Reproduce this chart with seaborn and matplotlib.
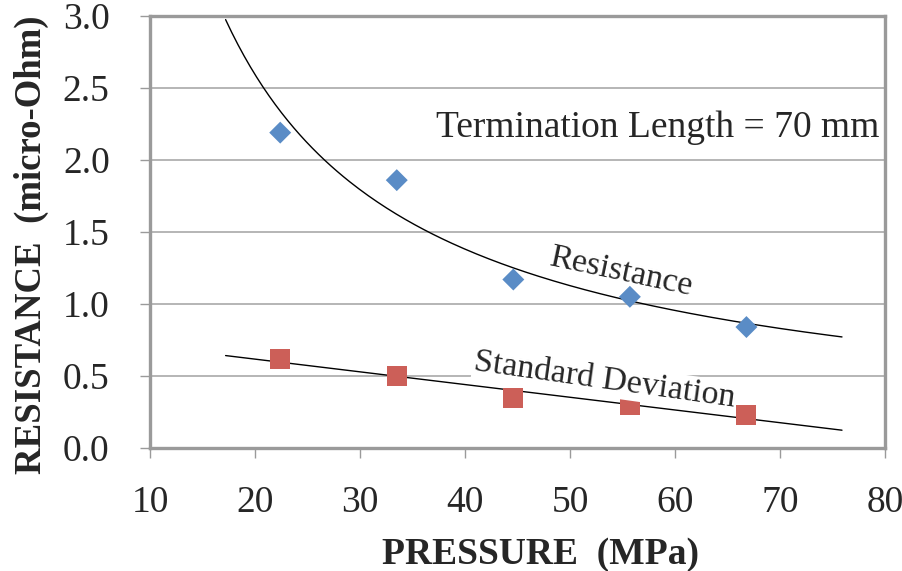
import numpy as np
import pandas as pd
import seaborn as sns
import matplotlib.pyplot as plt

# data
pressure = [22.4, 33.5, 44.6, 55.7, 66.8]
resistance = [2.19, 1.86, 1.17, 1.05, 0.84]
std_dev = [0.62, 0.50, 0.35, 0.30, 0.23]
trend_range = [17.2, 75.9]
x_ticks = [10, 20, 30, 40, 50, 60, 70, 80]
y_ticks = [0.0, 0.5, 1.0, 1.5, 2.0, 2.5, 3.0]

sns.set_style('white')
plt.rcParams['font.family'] = ['Liberation Serif', 'DejaVu Serif']

df = pd.DataFrame({'pressure': pressure, 'resistance': resistance, 'std': std_dev})

# trendlines like Excel: power fit for resistance, linear for std dev
b, a = np.polyfit(np.log(df['pressure']), np.log(df['resistance']), 1)
m, c = np.polyfit(df['pressure'], df['std'], 1)
xt = np.linspace(trend_range[0], trend_range[1], 200)
trend = pd.DataFrame({'x': xt, 'res': np.exp(a) * xt ** b, 'std': m * xt + c})

fig = plt.figure(figsize=(9.02, 5.71), dpi=100)
ax = fig.add_axes([0.1663, 0.2154, 0.8149, 0.7566])

gray = '#9a9a9a'
for yv in y_ticks[1:]:
    ax.axhline(yv, color='#b0b0b0', lw=1.3, zorder=0)

sns.lineplot(data=trend, x='x', y='res', color='black', lw=1.0, ax=ax, zorder=2)
sns.lineplot(data=trend, x='x', y='std', color='black', lw=1.0, ax=ax, zorder=2)
sns.scatterplot(data=df, x='pressure', y='resistance', marker='D', s=125,
                color='#5a8cc6', edgecolor='none', ax=ax, zorder=3)
sns.scatterplot(data=df, x='pressure', y='std', marker='s', s=205,
                color='#cc5f58', edgecolor='none', ax=ax, zorder=3)

ax.set_xlim(10, 80)
ax.set_ylim(0, 3.0)
ax.set_xticks(x_ticks)
ax.set_yticks(y_ticks)
ax.set_yticklabels([f'{v:.1f}' for v in y_ticks])

for sp in ax.spines.values():
    sp.set_color(gray)
    sp.set_linewidth(2.4)
ax.tick_params(axis='both', direction='out', length=7, width=1, color=gray,
               labelsize=27)
ax.tick_params(axis='x', bottom=True, pad=20)
ax.tick_params(axis='y', left=True, pad=22)

ax.set_xlabel('PRESSURE  (MPa)', fontsize=27, fontweight='bold', labelpad=12)
ax.set_ylabel('RESISTANCE  (micro-Ohm)', fontsize=26.5, fontweight='bold', labelpad=10)
ax.xaxis.label.set_x(0.531)
ax.yaxis.label.set_y(0.47)

ax.text(0.993, 0.741, 'Termination Length = 70 mm', transform=ax.transAxes,
        ha='right', va='center', fontsize=27)
ax.text(54.8, 1.22, 'Resistance', rotation=-12, ha='center', va='center',
        fontsize=24.5, rotation_mode='anchor')
ax.text(53.3, 0.47, 'Standard Deviation', rotation=-8, ha='center', va='center',
        fontsize=24.5, rotation_mode='anchor',
        bbox=dict(facecolor='white', edgecolor='none', pad=1))

fig.savefig('out.png', dpi=100)
